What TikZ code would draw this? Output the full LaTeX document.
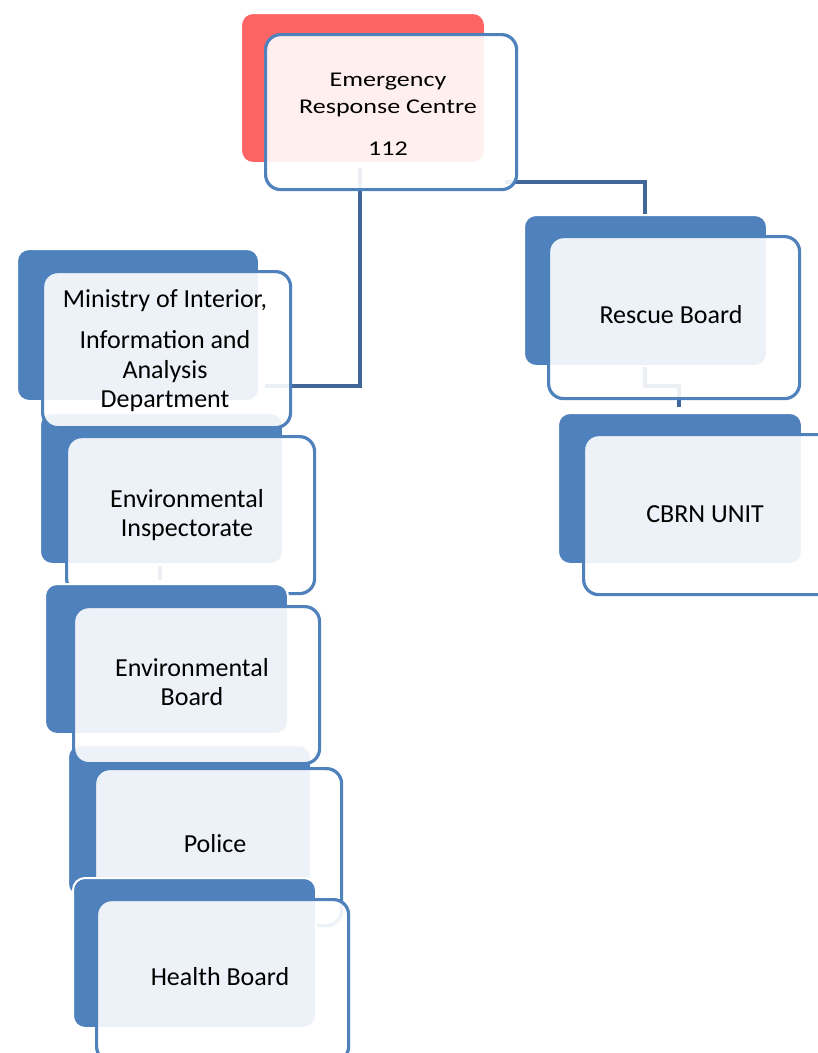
\documentclass[tikz,border=0pt]{standalone}
\usepackage{fontspec}
\setmainfont{Carlito}
\newfontfamily\ercfont{Carlito}[FakeStretch=1.24]
\definecolor{bk}{HTML}{4F81BD}
\definecolor{rd}{HTML}{FF6464}
\definecolor{cn}{HTML}{3F679A}
\begin{document}
\begin{tikzpicture}[x=1pt,y=-1pt,
  backbox/.style={draw=white,line width=2pt,fill=bk,rounded corners=12pt,inner sep=0pt,anchor=north west},
  frontbox/.style={draw=bk,line width=3.2pt,fill=white,fill opacity=0.9,draw opacity=1,rounded corners=15pt,inner sep=0pt,anchor=north west},
  conn/.style={draw=cn,line width=4pt,line join=miter},
  lbl/.style={anchor=base,inner sep=0pt,font=\fontsize{26}{30}\selectfont,text=black},
  ercl/.style={anchor=base,inner sep=0pt,font=\ercfont\fontsize{21}{26}\selectfont,text=black}]
\useasboundingbox (0,0) rectangle (818,1053);

% invisible geometry for connectors (defined first so they can be used)
\path (264,33) node[minimum width=251pt,minimum height=155pt,inner sep=0pt,anchor=north west] (erc) {};
\path (41,270) node[minimum width=248pt,minimum height=156pt,inner sep=0pt,anchor=north west] (min) {};
\path (523,214) node[minimum width=243pt,minimum height=151pt,inner sep=0pt,anchor=north west] (rescb) {};
\path (557,412) node[minimum width=244pt,minimum height=151pt,inner sep=0pt,anchor=north west] (cbrnb) {};
\path (39,412) node[minimum width=243pt,minimum height=151pt,inner sep=0pt,anchor=north west] (inspb) {};
\path (44,583) node[minimum width=243pt,minimum height=150pt,inner sep=0pt,anchor=north west] (boardb) {};

\coordinate (j1) at (360,386);
\coordinate (j2) at (645,182);
\coordinate (j3) at (645,386);
\coordinate (j4) at (679,386);
\coordinate (j5) at (160,566);

% connectors
\draw[conn] ([yshift=20pt]erc.south -| j1) |- ([xshift=-24pt]min.east |- j1);
\draw[conn] ([xshift=-10pt]erc.east |- j2) -| (rescb.north -| j2);
\draw[conn] (rescb.south -| j3) |- (j4) -- ([yshift=5pt]cbrnb.north -| j4);
\draw[conn] ([yshift=-3pt]inspb.south -| j5) -- ([yshift=3pt]boardb.north -| j5);

% Emergency Response Centre
\node[backbox,fill=rd,minimum width=244pt,minimum height=150pt] (ercB) at (240,12) {};
\node[frontbox,minimum width=251pt,minimum height=155pt] (ercF) at (264,33) {};

% Rescue Board and CBRN unit
\node[backbox,minimum width=243pt,minimum height=151pt] (rescB) at (523,214) {};
\node[frontbox,minimum width=251pt,minimum height=162pt] (rescF) at (547,235) {};
\node[backbox,minimum width=244pt,minimum height=151pt] (cbrnB) at (557,412) {};
\node[frontbox,minimum width=251pt,minimum height=160pt] (cbrnF) at (582,433) {};

% left column
\node[backbox,minimum width=243pt,minimum height=151pt] (inspB) at (39,412) {};
\node[backbox,minimum width=242pt,minimum height=152pt] (minB) at (16,248) {};
\node[frontbox,minimum width=248pt,minimum height=156pt] (minF) at (41,270) {};
\node[frontbox,minimum width=248pt,minimum height=157pt] (inspF) at (65,435) {};
\node[backbox,minimum width=243pt,minimum height=150pt] (boardB) at (44,583) {};
\node[backbox,minimum width=243pt,minimum height=151pt] (policeB) at (67,744) {};
\node[frontbox,minimum width=246pt,minimum height=157pt] (boardF) at (72,605) {};
\node[frontbox,minimum width=247pt,minimum height=157pt] (policeF) at (93,767) {};
\node[backbox,minimum width=243pt,minimum height=150pt] (healthB) at (72,877) {};
\node[frontbox,minimum width=252pt,minimum height=162pt] (healthF) at (95,898) {};

% labels
\node[ercl] (t1) at (388,86) {Emergency};
\node[ercl] (t2) at (388,113) {Response Centre};
\node[ercl] (t3) at (388,155) {112};
\node[lbl] (t4) at (165,307) {Ministry of Interior,};
\node[lbl] (t5) at (165,348) {Information and};
\node[lbl] (t6) at (165,378) {Analysis};
\node[lbl] (t7) at (165,407) {Department};
\node[lbl] (t8) at (187,507) {Environmental};
\node[lbl] (t9) at (187,536) {Inspectorate};
\node[lbl] (t10) at (192,676) {Environmental};
\node[lbl] (t11) at (192,705) {Board};
\node[lbl] (t12) at (215,852) {Police};
\node[lbl] (t13) at (220,985) {Health Board};
\node[lbl] (t14) at (671,323) {Rescue Board};
\node[lbl] (t15) at (705,522) {CBRN UNIT};
\end{tikzpicture}
\end{document}
